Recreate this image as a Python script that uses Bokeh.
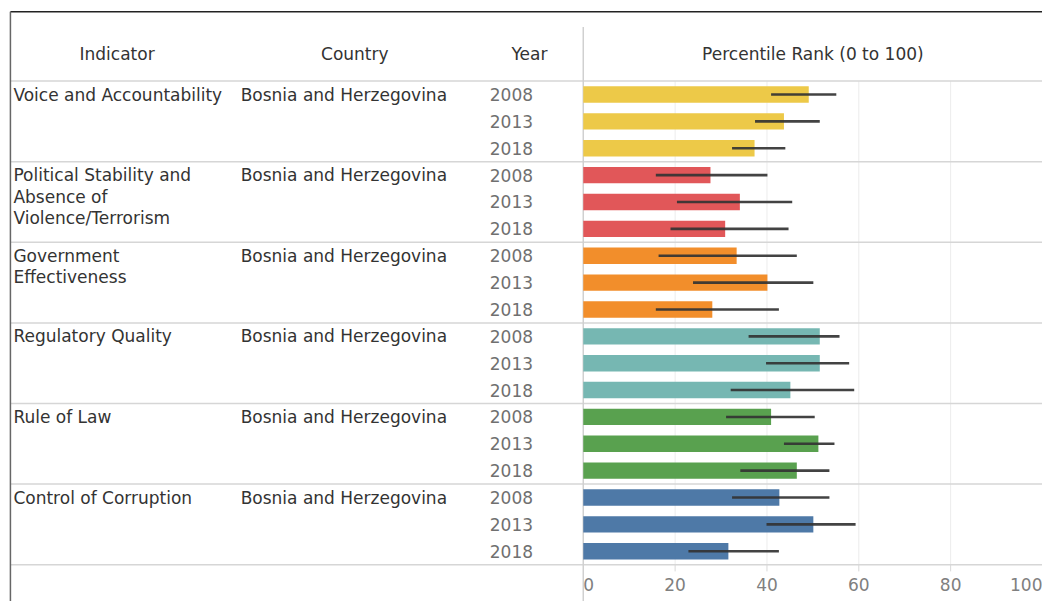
from bokeh.plotting import figure
from bokeh.models import Range1d, ColumnDataSource
from bokeh.core.properties import value
from bokeh.embed import file_html
from bokeh.resources import INLINE

# ---------------- data ----------------
indicators = ["Voice and Accountability",
              "Political Stability and Absence of Violence/Terrorism",
              "Government Effectiveness",
              "Regulatory Quality",
              "Rule of Law",
              "Control of Corruption"]
indicator_lines = [["Voice and Accountability"],
                   ["Political Stability and", "Absence of", "Violence/Terrorism"],
                   ["Government", "Effectiveness"],
                   ["Regulatory Quality"],
                   ["Rule of Law"],
                   ["Control of Corruption"]]
country = "Bosnia and Herzegovina"
years = ["2008", "2013", "2018"]
rank = [[49.1, 43.7, 37.3],
        [27.7, 34.1, 30.9],
        [33.4, 40.1, 28.1],
        [51.5, 51.5, 45.1],
        [40.9, 51.2, 46.5],
        [42.7, 50.1, 31.6]]
lower = [[40.9, 37.4, 32.4],
         [15.8, 20.4, 19.0],
         [16.4, 23.9, 15.8],
         [36.0, 39.8, 32.1],
         [31.1, 43.7, 34.2],
         [32.4, 39.9, 22.9]]
upper = [[55.1, 51.5, 44.0],
         [40.1, 45.5, 44.7],
         [46.5, 50.1, 42.6],
         [55.8, 57.9, 59.0],
         [50.4, 54.7, 53.6],
         [53.6, 59.3, 42.6]]
colors = ["#EDC948", "#E15759", "#F28E2B", "#76B7B2", "#59A14F", "#4E79A7"]
x_ticks = [0, 20, 40, 60, 80, 100]
headers = ["Indicator", "Country", "Year", "Percentile Rank (0 to 100)"]

# ---------------- layout constants ----------------
W, H = 1042, 601
X0, X1 = -126.9, 100.0
Y_TOP, Y_BOT = -3.50, 18.87   # rows are 1 unit tall, row 0 centre at 0
FONT = value("DejaVu Sans")
FS = "17px"

def xpx(ref_x):
    return X0 + ref_x * (X1 - X0) / 1050.0

p = figure(width=W, height=H, output_backend="svg", toolbar_location=None,
           x_range=Range1d(X0, X1), y_range=Range1d(Y_BOT, Y_TOP),
           x_axis_type=None, y_axis_type=None, min_border=0,
           outline_line_color=None, background_fill_color="white",
           border_fill_color="white")
p.grid.visible = False

n_rows = len(indicators) * len(years)
last = n_rows - 0.5

# gridlines
p.segment(x0=x_ticks[1:], x1=x_ticks[1:], y0=[-0.5] * 5, y1=[last] * 5,
          line_color="#ececec", line_width=1)
p.segment(x0=x_ticks[1:-1], x1=x_ticks[1:-1], y0=[last] * 4, y1=[last + 0.25] * 4,
          line_color="#d8d8d8", line_width=1)

# horizontal separators
seps = [-0.5] + [3 * (g + 1) - 0.5 for g in range(len(indicators))]
p.segment(x0=[xpx(10)] * len(seps), x1=[X1] * len(seps), y0=seps, y1=seps,
          line_color="#d6d6d6", line_width=1.5)
# vertical separator at 0
p.segment(x0=[0], x1=[0], y0=[-2.51], y1=[Y_BOT], line_color="#d0d0d0", line_width=1.5)
# outer border (top + left)
p.segment(x0=[xpx(10)], x1=[X1], y0=[-3.08], y1=[-3.08], line_color="#222222", line_width=1.5)
p.segment(x0=[xpx(10)], x1=[xpx(10)], y0=[-3.08], y1=[Y_BOT], line_color="#666666", line_width=1.5)

# bars and error bars
ys, vals, los, his, cols = [], [], [], [], []
for g in range(len(indicators)):
    for k in range(len(years)):
        ys.append(3 * g + k)
        vals.append(rank[g][k])
        los.append(lower[g][k])
        his.append(upper[g][k])
        cols.append(colors[g])
src = ColumnDataSource(dict(y=ys, v=vals, lo=los, hi=his, c=cols))
p.hbar(y="y", left=0, right="v", height=0.61, fill_color="c", line_color=None, source=src)
p.segment(x0="lo", x1="hi", y0="y", y1="y", line_color="#333333", line_width=2.6,
          line_alpha=0.92, source=src)

# table texts
tx, ty, tt = [], [], []
for g, lines in enumerate(indicator_lines):
    for j, line in enumerate(lines):
        tx.append(xpx(13)); ty.append(3 * g + j * 0.8); tt.append(line)
p.text(x=tx, y=ty, text=tt, text_font=FONT, text_font_size=FS, text_color="#333333",
       text_baseline="middle", text_align="left")
p.text(x=[xpx(242)] * len(indicators), y=[3 * g for g in range(len(indicators))],
       text=[country] * len(indicators), text_font=FONT, text_font_size=FS,
       text_color="#333333", text_baseline="middle", text_align="left")
p.text(x=[xpx(493)] * n_rows, y=ys, text=[years[i % 3] for i in range(n_rows)],
       text_font=FONT, text_font_size=FS, text_color="#707070",
       text_baseline="middle", text_align="left")

# headers
p.text(x=[xpx(117.5), xpx(357), xpx(533), 50], y=[-1.52] * 4, text=headers,
       text_font=FONT, text_font_size=FS, text_color="#333333",
       text_baseline="middle", text_align="center")

# x tick labels
aligns = ["left"] + ["center"] * (len(x_ticks) - 2) + ["right"]
p.text(x=x_ticks, y=[18.25] * len(x_ticks), text=[str(t) for t in x_ticks],
       text_align=aligns, text_font=FONT, text_font_size=FS, text_color="#808080",
       text_baseline="middle")

open("out.html", "w").write(file_html(p, INLINE))
